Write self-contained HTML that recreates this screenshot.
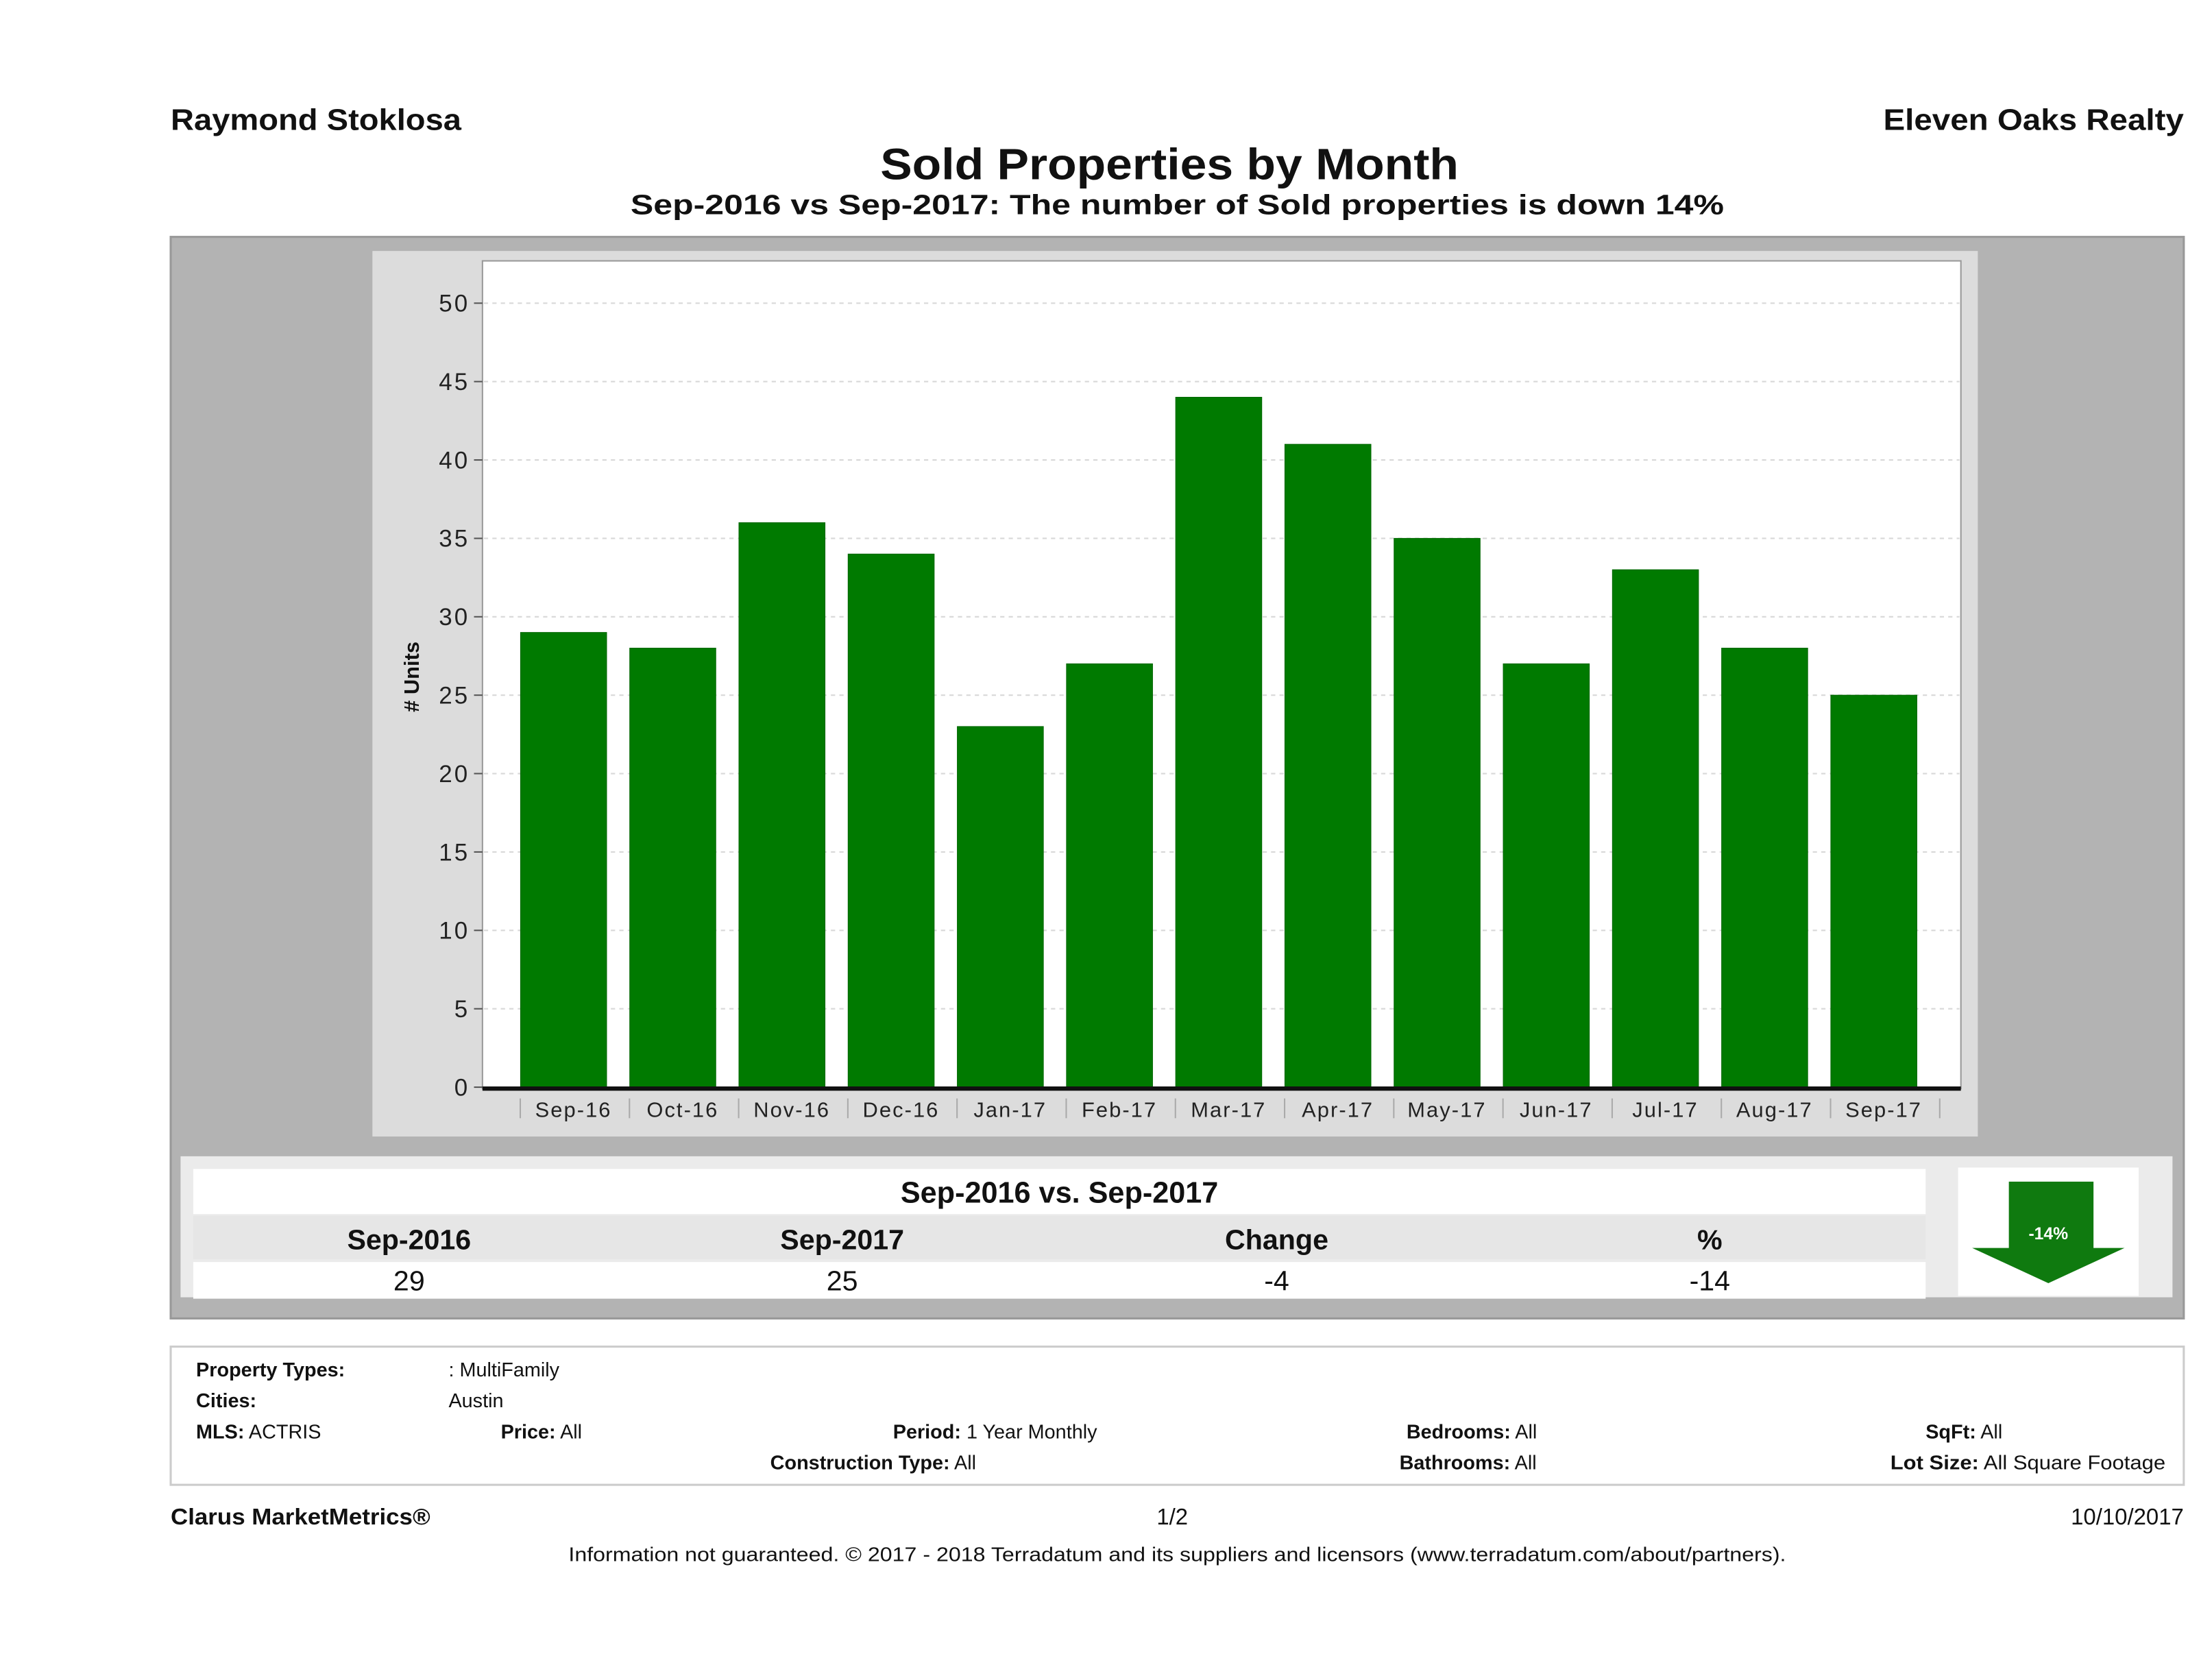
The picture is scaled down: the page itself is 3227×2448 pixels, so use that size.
<!DOCTYPE html>
<html><head><meta charset="utf-8"><style>
html,body{margin:0;padding:0;background:#fff;}
svg{display:block;font-family:"Liberation Sans","DejaVu Sans",sans-serif;}
</style></head><body>
<svg id="chart" width="3227" height="2448" viewBox="0 0 1568 1190" preserveAspectRatio="none" xmlns="http://www.w3.org/2000/svg">
<rect width="1568" height="1190" fill="#fff"/>
<text x="121" y="92" font-size="21" font-weight="bold" fill="#111" textLength="206" lengthAdjust="spacingAndGlyphs">Raymond Stoklosa</text>
<text x="1335" y="92" font-size="21" font-weight="bold" fill="#111" textLength="213" lengthAdjust="spacingAndGlyphs">Eleven Oaks Realty</text>
<text x="624" y="127" font-size="31" font-weight="bold" fill="#111" textLength="410" lengthAdjust="spacingAndGlyphs">Sold Properties by Month</text>
<text x="447" y="152" font-size="20" font-weight="bold" fill="#111" textLength="775" lengthAdjust="spacingAndGlyphs">Sep-2016 vs Sep-2017: The number of Sold  properties is down 14%</text>

<rect x="121" y="168" width="1427" height="767" fill="#b3b3b3" stroke="#999" stroke-width="1.5"/>
<rect x="264" y="178" width="1138" height="628" fill="#dcdcdc"/>
<rect x="342" y="185" width="1048" height="587" fill="#fff" stroke="#999" stroke-width="1"/>
<g id="grid"></g>
<g id="bars"></g>
<g id="yticks"></g>
<g id="xticks"></g>
<line x1="342" y1="772" x2="1390" y2="772" stroke="#111" stroke-width="3"/>
<text transform="translate(297,480) rotate(-90)" font-size="15" font-weight="bold" fill="#111" text-anchor="middle"># Units</text>

<rect x="128" y="820" width="1412" height="100" fill="#ebebeb"/>
<rect x="137" y="829" width="1228" height="32" fill="#fff"/>
<text x="751" y="853" font-size="21" font-weight="bold" fill="#111" text-anchor="middle">Sep-2016 vs. Sep-2017</text>
<rect x="137" y="862" width="1228" height="31" fill="#e6e6e6"/>
<text x="290" y="886" font-size="20" font-weight="bold" fill="#111" text-anchor="middle">Sep-2016</text>
<text x="597" y="886" font-size="20" font-weight="bold" fill="#111" text-anchor="middle">Sep-2017</text>
<text x="905" y="886" font-size="20" font-weight="bold" fill="#111" text-anchor="middle">Change</text>
<text x="1212" y="886" font-size="20" font-weight="bold" fill="#111" text-anchor="middle">%</text>
<rect x="137" y="895" width="1228" height="26" fill="#fff"/>
<text x="290" y="915" font-size="20" fill="#111" text-anchor="middle">29</text>
<text x="597" y="915" font-size="20" fill="#111" text-anchor="middle">25</text>
<text x="905" y="915" font-size="20" fill="#111" text-anchor="middle">-4</text>
<text x="1212" y="915" font-size="20" fill="#111" text-anchor="middle">-14</text>
<rect x="1388" y="828" width="128" height="91" fill="#fff"/>
<path d="M1424 838 H1484 V885 H1506 L1452 910 L1398 885 H1424 Z" fill="#0f7a0f"/>
<text x="1452" y="879" font-size="12" font-weight="bold" fill="#fff" text-anchor="middle">-14%</text>

<rect x="121" y="955" width="1427" height="98" fill="#fff" stroke="#ccc" stroke-width="1.5"/>
<g font-size="14" fill="#111">
<text x="139" y="976" font-weight="bold">Property Types:</text>
<text x="318" y="976">: MultiFamily</text>
<text x="139" y="998" font-weight="bold">Cities:</text>
<text x="318" y="998">Austin</text>
<text x="139" y="1020"><tspan font-weight="bold">MLS:</tspan>  ACTRIS</text>
<text x="355" y="1020"><tspan font-weight="bold">Price:</tspan> All</text>
<text x="633" y="1020"><tspan font-weight="bold">Period:</tspan> 1 Year Monthly</text>
<text x="997" y="1020"><tspan font-weight="bold">Bedrooms:</tspan> All</text>
<text x="1365" y="1020"><tspan font-weight="bold">SqFt:</tspan>  All</text>
<text x="546" y="1042"><tspan font-weight="bold">Construction Type:</tspan> All</text>
<text x="992" y="1042"><tspan font-weight="bold">Bathrooms:</tspan> All</text>
<text x="1340" y="1042" textLength="195" lengthAdjust="spacingAndGlyphs"><tspan font-weight="bold">Lot Size:</tspan>  All Square Footage</text>
</g>
<text x="121" y="1081" font-size="16" font-weight="bold" fill="#111" textLength="184" lengthAdjust="spacingAndGlyphs">Clarus MarketMetrics®</text>
<text x="831" y="1081" font-size="16" fill="#111" text-anchor="middle">1/2</text>
<text x="1548" y="1081" font-size="16" fill="#111" text-anchor="end">10/10/2017</text>
<text x="403" y="1107" font-size="14" fill="#111" textLength="863" lengthAdjust="spacingAndGlyphs">Information not guaranteed. © 2017 - 2018 Terradatum and its suppliers and licensors (www.terradatum.com/about/partners).</text>
</svg>
<script>
const categories = ["Sep-16","Oct-16","Nov-16","Dec-16","Jan-17","Feb-17","Mar-17","Apr-17","May-17","Jun-17","Jul-17","Aug-17","Sep-17"];
const soldUnits = [29,28,36,34,23,27,44,41,35,27,33,28,25];
const yTicks = [0,5,10,15,20,25,30,35,40,45,50];

const NS = "http://www.w3.org/2000/svg";
const y0 = 771, y50 = 215, yMax = 50;
function yScale(v){ return y0 - (v / yMax) * (y0 - y50); }
const firstCenter = 399.5, step = 77.4, barW = 61;
function xScale(i){ return firstCenter + i * step; }
function mk(tag, attrs, parent){
  const e = document.createElementNS(NS, tag);
  for (const k in attrs) e.setAttribute(k, attrs[k]);
  parent.appendChild(e);
  return e;
}
const grid = document.getElementById('grid');
const yt = document.getElementById('yticks');
yTicks.forEach(t => {
  const y = yScale(t);
  if (t > 0) {
    const gl = mk('line', {x1:343, x2:1389, y1:y, y2:y, stroke:'#d8d8d8', 'stroke-dasharray':'3,3', 'stroke-width':1}, grid);
    
    
  }
  const tk = mk('line', {x1:336, x2:342, y1:y, y2:y, stroke:'#555', 'stroke-width':1}, yt);
  
  
  const tx = mk('text', {x:333, y:y+6, 'font-size':17, fill:'#222', 'text-anchor':'end', 'letter-spacing':'1.5'}, yt);
  tx.textContent = String(t);
  
  
});
const bars = document.getElementById('bars');
const xt = document.getElementById('xticks');
categories.forEach((c, i) => {
  const cx = xScale(i);
  const top = yScale(soldUnits[i]);
  const b = mk('rect', {x:cx - barW/2, y:top, width:barW, height:y0 - top, fill:'#007a00', stroke:'#006600', 'stroke-width':0.5}, bars);
  
  
  const sep = mk('line', {x1:cx - step/2 + 8, x2:cx - step/2 + 8, y1:779, y2:793, stroke:'#aaa', 'stroke-width':1}, xt);
  
  
  const lbl = mk('text', {x:cx + 7, y:792, 'font-size':15, fill:'#222', 'text-anchor':'middle', 'letter-spacing':'1'}, xt);
  lbl.textContent = c;
  
  
});
const last = mk('line', {x1:xScale(categories.length-1)+step/2+8, x2:xScale(categories.length-1)+step/2+8, y1:779, y2:793, stroke:'#aaa', 'stroke-width':1}, xt);


</script>
</body></html>
